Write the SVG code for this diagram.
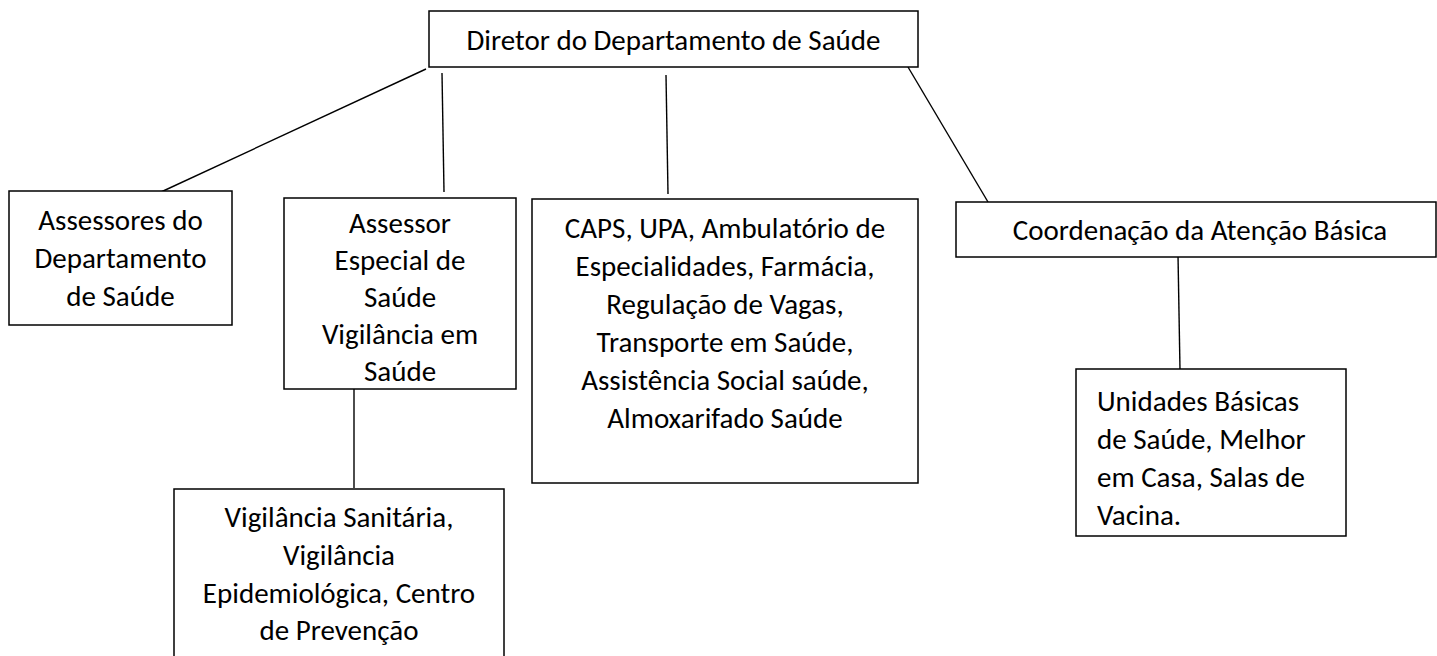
<svg xmlns="http://www.w3.org/2000/svg" width="1437" height="656" viewBox="0 0 1437 656">
<style>
.box{fill:#fff;stroke:#000;stroke-width:1.5}
.t{font-family:Carlito,Lato,"Liberation Sans",sans-serif;font-size:29px;fill:#000}
.c{text-anchor:middle}
.ln{stroke:#000;stroke-width:1.4;fill:none}
</style>
<rect width="1437" height="656" fill="#fff"/>
<g id="connectors">
<line class="ln" x1="426" y1="69" x2="161" y2="192"/>
<line class="ln" x1="442" y1="73" x2="444" y2="192"/>
<line class="ln" x1="666" y1="75" x2="668" y2="194"/>
<line class="ln" x1="908" y1="67" x2="988" y2="202"/>
<line class="ln" x1="354" y1="384" x2="354" y2="488"/>
<line class="ln" x1="1178" y1="255" x2="1180" y2="370"/>
</g>
<g id="diretor">
<rect class="box" x="429" y="11" width="489" height="56"/>
<text class="t c" x="673.5" y="50">Diretor do Departamento de Saúde</text>
</g>
<g id="assessores">
<rect class="box" x="9" y="191" width="223" height="134"/>
<text class="t c" x="120.5" y="230">Assessores do</text>
<text class="t c" x="120.5" y="268">Departamento</text>
<text class="t c" x="120.5" y="306">de Saúde</text>
</g>
<g id="assessor-especial">
<rect class="box" x="284" y="198" width="232" height="191"/>
<text class="t c" x="400" y="233">Assessor</text>
<text class="t c" x="400" y="270">Especial de</text>
<text class="t c" x="400" y="307">Saúde</text>
<text class="t c" x="400" y="344">Vigilância em</text>
<text class="t c" x="400" y="381">Saúde</text>
</g>
<g id="caps">
<rect class="box" x="532" y="199" width="386" height="284"/>
<text class="t c" x="725" y="238">CAPS, UPA, Ambulatório de</text>
<text class="t c" x="725" y="276">Especialidades, Farmácia,</text>
<text class="t c" x="725" y="314">Regulação de Vagas,</text>
<text class="t c" x="725" y="352">Transporte em Saúde,</text>
<text class="t c" x="725" y="390">Assistência Social saúde,</text>
<text class="t c" x="725" y="428">Almoxarifado Saúde</text>
</g>
<g id="coordenacao">
<rect class="box" x="956" y="202" width="480" height="55"/>
<text class="t c" x="1200" y="240">Coordenação da Atenção Básica</text>
</g>
<g id="unidades">
<rect class="box" x="1076" y="369" width="270" height="167"/>
<text class="t" x="1097" y="411">Unidades Básicas</text>
<text class="t" x="1097" y="449">de Saúde, Melhor</text>
<text class="t" x="1097" y="487">em Casa, Salas de</text>
<text class="t" x="1097" y="525">Vacina.</text>
</g>
<g id="vigilancia">
<rect class="box" x="174" y="489" width="330" height="180"/>
<text class="t c" x="339" y="527">Vigilância Sanitária,</text>
<text class="t c" x="339" y="565">Vigilância</text>
<text class="t c" x="339" y="603">Epidemiológica, Centro</text>
<text class="t c" x="339" y="640">de Prevenção</text>
</g>
</svg>
